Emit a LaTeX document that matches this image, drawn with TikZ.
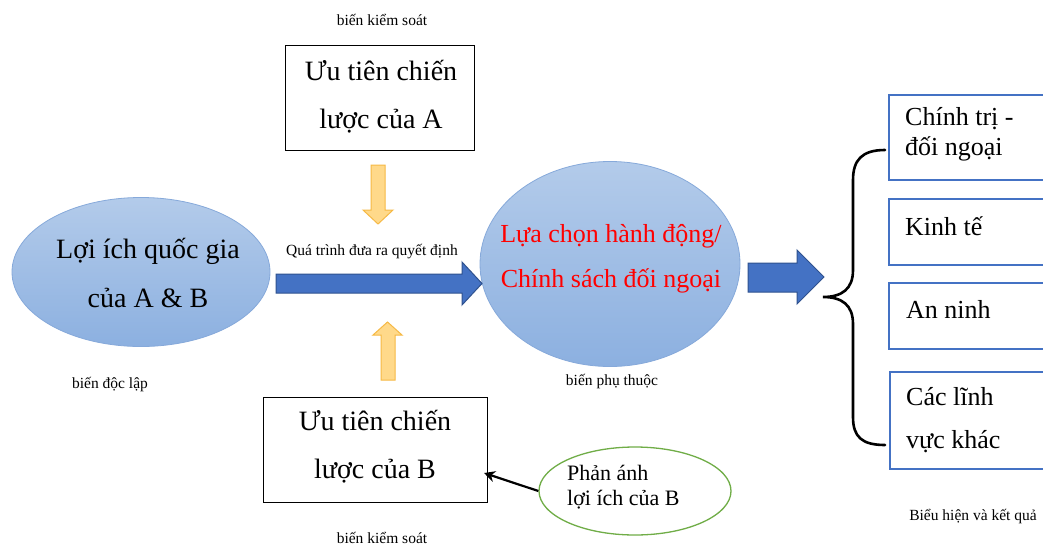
\documentclass[tikz,border=0pt]{standalone}
\usepackage{fontspec}
\setmainfont{Liberation Serif}
\usetikzlibrary{shapes.geometric,arrows.meta}
\definecolor{ellTop}{HTML}{B3CBEA}
\definecolor{ellBot}{HTML}{8CB0E0}
\definecolor{ellLine}{HTML}{86A9DA}
\definecolor{bluefill}{HTML}{4472C4}
\definecolor{blueline}{HTML}{2F528F}
\definecolor{orfill}{HTML}{FFD98A}
\definecolor{orline}{HTML}{F6B945}
\definecolor{greenline}{HTML}{70AD47}
\definecolor{redtext}{HTML}{FF0000}
\tikzset{
  bigtxt/.style={font=\fontsize{28}{34}\selectfont, anchor=base, inner sep=0pt},
  midtxt/.style={font=\fontsize{26}{32}\selectfont, anchor=base, inner sep=0pt},
  rtxt/.style={font=\fontsize{26}{32}\selectfont, anchor=base west, inner sep=0pt},
  gtxt/.style={font=\fontsize{22}{26}\selectfont, anchor=base west, inner sep=0pt},
  smalltxt/.style={font=\fontsize{15.5}{18}\selectfont, anchor=base, inner sep=0pt},
  bluebox/.style={draw=ellLine, line width=0.8pt, top color=ellTop, bottom color=ellBot, ellipse, inner sep=0pt},
  blackbox/.style={draw=black, line width=1.1pt, anchor=north west, inner sep=0pt},
  rbox/.style={draw=bluefill, line width=1.6pt, anchor=north west, inner sep=0pt},
  bluearrow/.style={fill=bluefill, draw=blueline, line width=1pt, line join=miter},
  orarrow/.style={fill=orfill, draw=orline, line width=1pt, line join=miter},
}
\begin{document}
\begin{tikzpicture}[x=1pt,y=-1pt]
\useasboundingbox[fill=white] (0,0) rectangle (1043,549);

% left ellipse
\node[bluebox, minimum width=258pt, minimum height=149pt] (lei) at (141,272) {};
\node[bigtxt] (lei1) at (148,258) {Lợi ích quốc gia};
\node[bigtxt] (lei2) at (148,307) {của A \& B};
\node[smalltxt] (ldl) at (110,388) {biến độc lập};

% middle ellipse
\node[bluebox, minimum width=260pt, minimum height=205pt] (mel) at (610,264) {};
\node[midtxt, text=redtext] (mel1) at (611,242) {Lựa chọn hành động/};
\node[midtxt, text=redtext] (mel2) at (611,287) {Chính sách đối ngoại};
\node[smalltxt] (lpt) at (612,385) {biến phụ thuộc};

% top box
\node[smalltxt] (lks1) at (382,25) {biến kiểm soát};
\node[blackbox, minimum width=189pt, minimum height=105pt] (bA) at (285,45) {};
\node[bigtxt] (bA1) at (381,80) {Ưu tiên chiến};
\node[bigtxt] (bA2) at (381,128) {lược của A};

% bottom box
\node[blackbox, minimum width=224pt, minimum height=105pt] (bB) at (263,397) {};
\node[bigtxt] (bB1) at (375,430) {Ưu tiên chiến};
\node[bigtxt] (bB2) at (375,478) {lược của B};
\node[smalltxt] (lks2) at (382,543) {biến kiểm soát};

% green ellipse
\node[draw=greenline, line width=1.3pt, ellipse, minimum width=192pt, minimum height=88pt, inner sep=0pt] (gel) at (635,491) {};
\node[gtxt] (gel1) at (567,480) {Phản ánh};
\node[gtxt] (gel2) at (567,505) {lợi ích của B};
\coordinate (bBin) at (484,473);
\draw[line width=2.2pt, -{Stealth[length=11pt,width=11pt]}] (gel.west) -- (bBin);

% orange arrows
\draw[orarrow] (371,165) -- (385,165) -- (385,210) -- (393,210) -- (378,224) -- (363,210) -- (371,210) -- cycle;
\draw[orarrow] (381,380) -- (395,380) -- (395,335) -- (402,335) -- (387.5,322) -- (373,335) -- (381,335) -- cycle;

% process arrow
\node[smalltxt] (lqt) at (372,255) {Quá trình đưa ra quyết định};
\draw[bluearrow] (276,274) -- (462,274) -- (462,262) -- (482,283.5) -- (462,305) -- (462,293) -- (276,293) -- cycle;

% right arrow
\draw[bluearrow] (748,263) -- (797,263) -- (797,250) -- (824,277) -- (797,304) -- (797,292) -- (748,292) -- cycle;

% brace
\draw[line width=2.6pt, line cap=round] (885,150) .. controls (862,150) and (853,160) .. (853,180) -- (853,270)
  .. controls (853,289) and (842,297) .. (823,297)
  .. controls (842,297) and (853,305) .. (853,324) -- (853,417)
  .. controls (853,437) and (862,445) .. (885,445);

% right boxes
\node[rbox, minimum width=170pt, minimum height=85pt] (r1) at (888,94) {};
\node[rtxt] (r1a) at (905,125) {Chính trị -};
\node[rtxt] (r1b) at (905,155) {đối ngoại};
\node[rbox, minimum width=170pt, minimum height=66pt] (r2) at (888,198) {};
\node[rtxt] (r2a) at (905,235) {Kinh tế};
\node[rbox, minimum width=170pt, minimum height=66pt] (r3) at (888,282) {};
\node[rtxt] (r3a) at (906,318) {An ninh};
\node[rbox, minimum width=170pt, minimum height=97pt] (r4) at (889,371) {};
\node[rtxt] (r4a) at (906,405) {Các lĩnh};
\node[rtxt] (r4b) at (906,448) {vực khác};
\node[smalltxt] (lbh) at (973,520) {Biểu hiện và kết quả};
\end{tikzpicture}
\end{document}
